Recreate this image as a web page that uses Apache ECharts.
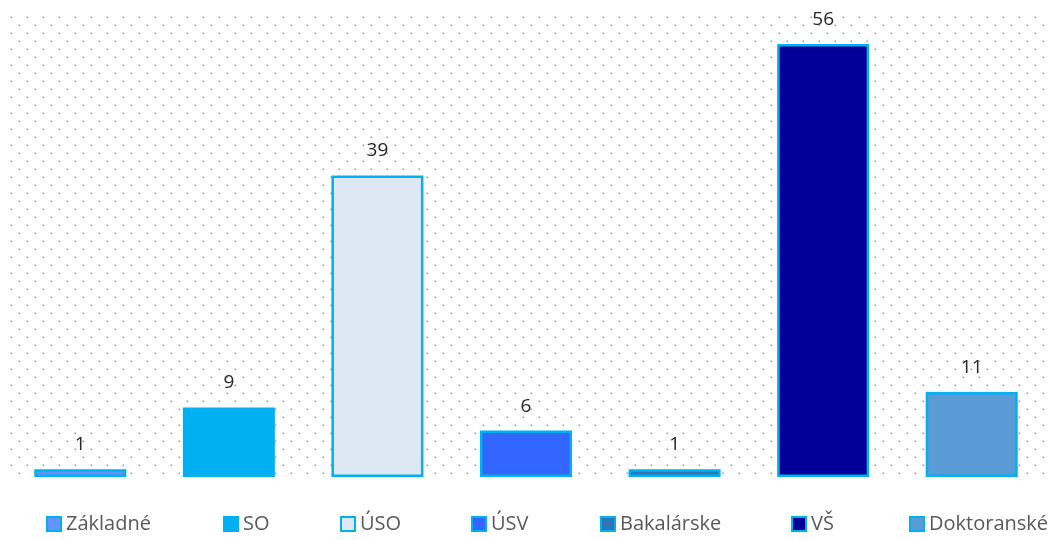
<!DOCTYPE html>
<html>
<head>
<meta charset="utf-8">
<script src="https://cdn.jsdelivr.net/npm/echarts@6/dist/echarts.min.js"></script>
<style>
  html, body { margin: 0; padding: 0; background: #fff; }
  #main { width: 1060px; height: 540px; }
</style>
</head>
<body>
<div id="main"></div>
<script>
// kategórie a hodnoty
const names = ['Základné', 'SO', 'ÚSO', 'ÚSV', 'Bakalárske', 'VŠ', 'Doktoranské'];
const values = [1, 9, 39, 6, 1, 56, 11];

// farby výplne stĺpcov
const fills = ['#6495ff', '#00b0f0', '#dee8f5', '#3366ff', '#2e75b6', '#000099', '#5b9bd5'];
const legendLeft = [41, 218, 335, 466, 595, 786, 904];

// bodkovaný podklad
const dots = document.createElement('canvas');
dots.width = 16;
dots.height = 16;
const dctx = dots.getContext('2d');
dctx.fillStyle = 'rgba(105,130,170,0.75)';
dctx.fillRect(10.5, 0.5, 1.6, 1.6);
dctx.fillRect(2.5, 8.5, 1.6, 1.6);

const chart = echarts.init(document.getElementById('main'));

const series = names.map((name, i) => ({
  name: name,
  type: 'bar',
  stack: 'all',
  barWidth: 92,
  data: values.map((v, j) => (j === i ? v : '-')),
  itemStyle: {
    color: fills[i],
    borderColor: '#00b0f0',
    borderWidth: 2.5
  },
  label: {
    show: true,
    position: 'top',
    distance: 15,
    color: '#262626',
    fontSize: 19,
    fontFamily: 'Open Sans'
  }
}));

const legends = names.map((name, i) => ({
  data: [name],
  left: legendLeft[i],
  top: 509,
  icon: 'rect',
  itemWidth: 14,
  itemHeight: 14,
  itemGap: 0,
  textStyle: {
    color: '#595959',
    fontSize: 20,
    fontFamily: 'Open Sans'
  }
}));

chart.setOption({
  animation: false,
  grid: {
    left: 6,
    right: 14,
    top: 13,
    bottom: 63,
    show: true,
    borderWidth: 0,
    backgroundColor: { image: dots, repeat: 'repeat' }
  },
  legend: legends,
  xAxis: {
    type: 'category',
    data: names,
    show: false
  },
  yAxis: {
    type: 'value',
    min: 0,
    max: 60,
    show: false
  },
  series: series
});
</script>
</body>
</html>
